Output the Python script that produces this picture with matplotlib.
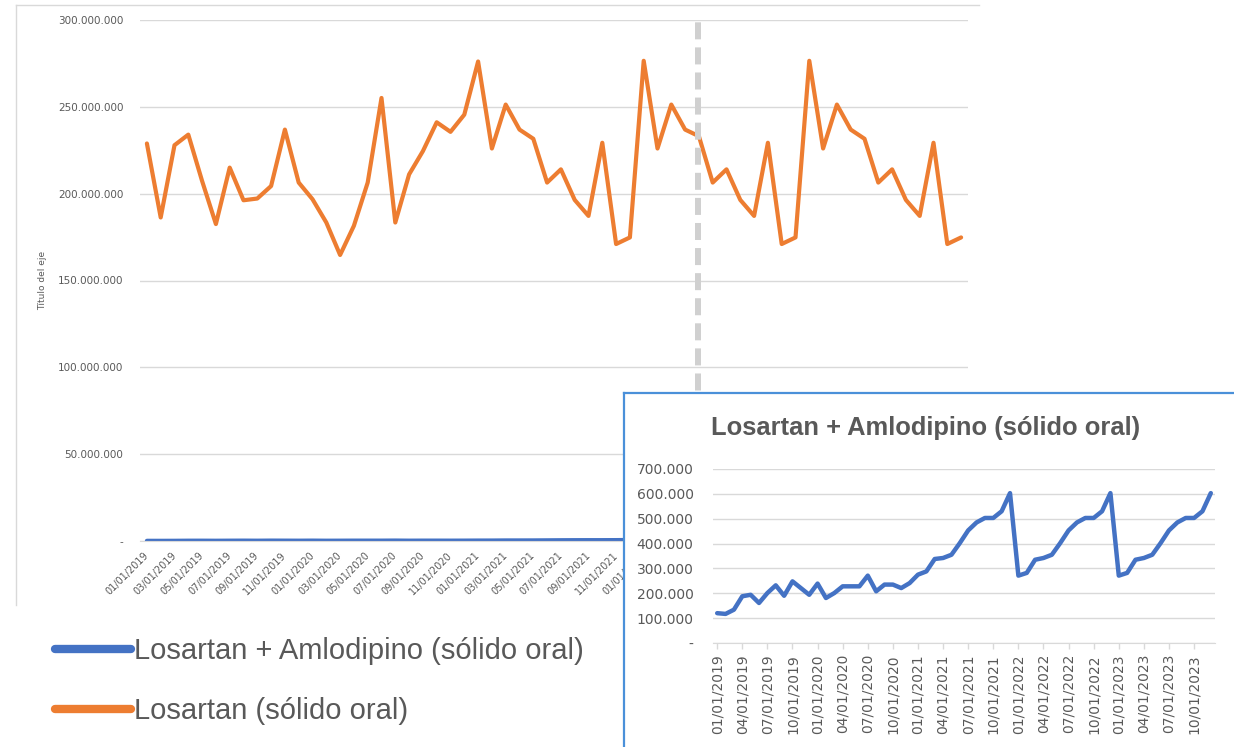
import matplotlib.pyplot as plt
import numpy as np
import pandas as pd
from matplotlib.lines import Line2D
from matplotlib.ticker import FuncFormatter

W, H = 1234, 747 # output size in px
GRID = "#d9d9d9"
TXT = "#595959"
NARROW = ["Liberation Sans", "DejaVu Sans"]

# monthly series, 01/2019 .. 12/2023
months = pd.date_range("2019-01-01", periods=60, freq="MS")
month_labels = months.strftime("%m/%d/%Y")

# Losartan (sólido oral), millions
losartan = [228.9, 186.3, 227.9, 234.0, 207.3, 182.5, 215.0, 196.2, 197.2, 204.4, 236.9, 206.4,
            196.8, 183.4, 164.7, 181.5, 206.4, 255.1, 183.4, 211.1, 224.5, 241.1, 235.6, 245.5,
            276.1, 226.0, 251.3, 236.9, 231.6, 206.4, 214.0, 196.4, 187.2, 229.3, 171.0, 174.8,
            276.5, 226.0, 251.3, 236.9, 233.1, 206.4, 214.0, 196.4, 187.2, 229.3, 171.0, 174.8,
            276.5, 226.0, 251.3, 236.9, 231.6, 206.4, 214.0, 196.4, 187.2, 229.3, 171.0, 174.8]

# Losartan + Amlodipino (sólido oral), thousands
combo = [120, 117, 134, 188, 194, 161, 201, 232, 190, 248, 221, 194,
         239, 181, 201, 228, 228, 228, 271, 208, 235, 235, 221, 241,
         275, 288, 338, 342, 355, 402, 453, 485, 503, 503, 530, 603,
         271, 282, 335, 342, 355, 402, 453, 485, 503, 503, 530, 603,
         271, 282, 335, 342, 355, 402, 453, 485, 503, 503, 530, 603]

label_combo = "Losartan + Amlodipino (sólido oral)"
label_los = "Losartan (sólido oral)"
split_at = 39.93 # dashed separator (month index)

losartan = np.array(losartan) * 1e6
combo = np.array(combo) * 1e3
x = np.arange(len(months))


def excel_fmt(v, pos):
  if v == 0:
    return "-"
  return "{:,.0f}".format(v).replace(",", ".")


def px(l, t, w, h):
  # pixel box (left, top, width, height) -> figure fraction
  return [l / W, 1 - (t + h) / H, w / W, h / H]


fig = plt.figure(figsize=(W / 100, H / 100), dpi=100)

# chart frame (top + left edge only)
fig.add_artist(Line2D([16 / W, 979 / W], [1 - 5 / H, 1 - 5 / H], color=GRID, lw=1))
fig.add_artist(Line2D([16 / W, 16 / W], [1 - 5 / H, 1 - 605 / H], color=GRID, lw=1))

"""MAIN CHART"""
ax = fig.add_axes(px(140, 20, 828, 521))
ax.plot(x, combo, color="#4472C4", lw=3.0, solid_capstyle="round")
ax.plot(x, losartan, color="#ED7D31", lw=3.0, solid_capstyle="round")
ax.axvline(split_at, ymin=0, ymax=1.01, color="#d0d0d0", lw=4.3,
           dashes=(2.85, 1.35), clip_on=False, zorder=5)
ax.set_xlim(-0.5, len(x) - 0.5)
ax.set_ylim(0, 300e6)
ax.set_yticks(np.arange(0, 300e6 + 1, 50e6))
ax.yaxis.set_major_formatter(FuncFormatter(excel_fmt))
ax.set_xticks(x[::2])
ax.set_xticklabels(month_labels[::2], rotation=45, ha="right", va="center",
                   rotation_mode="anchor")
ax.tick_params(axis="y", length=0, pad=12, labelsize=7.5, labelcolor=TXT)
ax.tick_params(axis="x", length=0, pad=9, labelsize=7, labelcolor=TXT)
ax.yaxis.grid(True, color=GRID, lw=1)
ax.set_axisbelow(True)
for s in ["top", "right", "left"]:
  ax.spines[s].set_visible(False)
ax.spines["bottom"].set_color(GRID)
fig.text(43 / W, 1 - 280 / H, "Título del eje", rotation=90, fontsize=6.5,
         color=TXT, ha="center", va="center")

# legend
handles = [
  Line2D([], [], color="#4472C4", lw=6, solid_capstyle="round"),
  Line2D([], [], color="#ED7D31", lw=6, solid_capstyle="round"),
]
fig.legend(handles, [label_combo, label_los], loc="upper left",
           bbox_to_anchor=(55 / W, 1 - 637 / H), frameon=False,
           prop={"family": NARROW, "size": 21}, labelcolor=TXT,
           handlelength=2.6, handletextpad=0.1, labelspacing=1.1,
           borderpad=0, borderaxespad=0)

"""INSET CHART"""
bg = fig.add_axes(px(624, 393, W - 624, H - 393))
bg.set_zorder(10)
bg.set_xticks([])
bg.set_yticks([])
bg.set_facecolor("white")
for s in ["right", "bottom"]:
  bg.spines[s].set_visible(False)
for s in ["left", "top"]:
  bg.spines[s].set_color("#4A90D9")
  bg.spines[s].set_linewidth(1.6)

ins = fig.add_axes(px(713, 469, 502, 174))
ins.set_zorder(11)
ins.patch.set_alpha(0)
ins.plot(x, combo, color="#4472C4", lw=3.2, solid_capstyle="round")
ins.set_xlim(-0.5, len(x) - 0.5)
ins.set_ylim(0, 700e3)
ins.set_yticks(np.arange(0, 700e3 + 1, 100e3))
ins.yaxis.set_major_formatter(FuncFormatter(excel_fmt))
ins.set_xticks(x[::3])
ins.set_xticklabels(month_labels[::3], rotation=90)
ins.tick_params(axis="y", length=0, pad=14, labelsize=10, labelcolor=TXT)
ins.tick_params(axis="x", length=4, width=1, color=GRID, pad=4,
                labelsize=10, labelcolor=TXT)
ins.yaxis.grid(True, color=GRID, lw=1)
ins.set_axisbelow(True)
for s in ["top", "right", "left"]:
  ins.spines[s].set_visible(False)
ins.spines["bottom"].set_color(GRID)

t = fig.text(926 / W, 1 - 428 / H, label_combo, fontsize=18.4, fontweight="bold",
             family=NARROW, color=TXT, ha="center", va="center")
t.set_zorder(12)

fig.savefig("out.png", dpi=100)
